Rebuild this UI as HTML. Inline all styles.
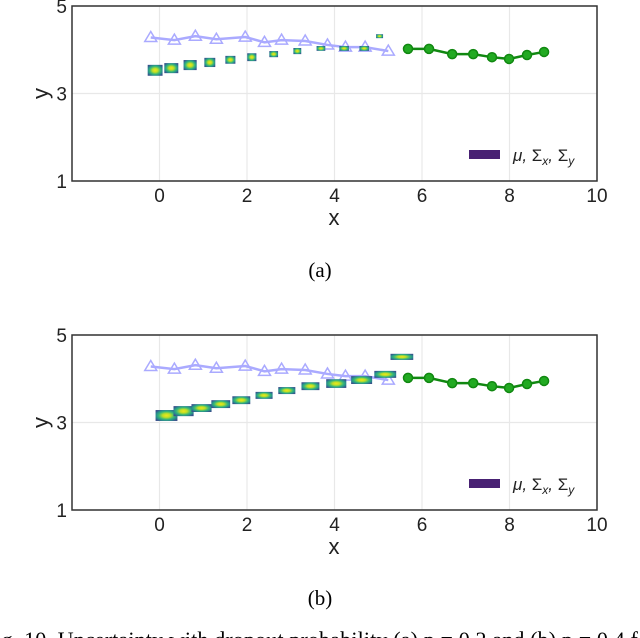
<!DOCTYPE html>
<html><head><meta charset="utf-8"><style>
html,body{margin:0;padding:0;background:#fff;width:640px;height:638px;overflow:hidden}
svg{display:block}
</style></head><body>
<svg id="fig" width="640" height="638" viewBox="0 0 640 638" xmlns="http://www.w3.org/2000/svg" font-family="Liberation Sans, sans-serif">
<defs>
<radialGradient id="blob" cx="0.5" cy="0.5" r="0.6">
<stop offset="0" stop-color="#f0e51c"/>
<stop offset="0.3" stop-color="#bddf26"/>
<stop offset="0.6" stop-color="#35b779"/>
<stop offset="0.85" stop-color="#26828e"/>
<stop offset="1" stop-color="#3b528b"/>
</radialGradient>
</defs>
<g id="panelA"></g>
<g id="panelB"></g>
<text x="320" y="277" text-anchor="middle" font-family="Liberation Serif, serif" font-size="21">(a)</text>
<text x="320" y="605" text-anchor="middle" font-family="Liberation Serif, serif" font-size="21">(b)</text>
<text x="-17" y="647" font-family="Liberation Serif, serif" font-size="22" textLength="666" lengthAdjust="spacing">Fig. 10.  Uncertainty with dropout probability (a) p = 0.2 and (b) p = 0.4 fo</text>
</svg>
<script>
const xTicks = [0, 2, 4, 6, 8, 10];
const yTicks = [1, 3, 5];
const histX = [-0.2, 0.34, 0.82, 1.3, 1.96, 2.4, 2.79, 3.33, 3.84, 4.25, 4.7, 5.23];
const histY = [4.28, 4.22, 4.31, 4.24, 4.29, 4.17, 4.22, 4.2, 4.11, 4.06, 4.06, 3.97];
const gtX = [5.68, 6.16, 6.69, 7.17, 7.6, 7.99, 8.4, 8.79];
const gtY = [4.02, 4.02, 3.9, 3.9, 3.83, 3.79, 3.88, 3.95];
const predAx = [-0.1, 0.27, 0.7, 1.15, 1.62, 2.11, 2.61, 3.15, 3.69, 4.22, 4.68, 5.03];
const predAy = [3.53, 3.58, 3.65, 3.71, 3.77, 3.83, 3.9, 3.97, 4.03, 4.03, 4.03, 4.31];
const sigAx = [0.34, 0.32, 0.3, 0.25, 0.23, 0.21, 0.2, 0.18, 0.2, 0.22, 0.22, 0.16];
const sigAy = [0.25, 0.23, 0.23, 0.21, 0.18, 0.18, 0.14, 0.14, 0.11, 0.11, 0.11, 0.09];
const predBx = [0.16, 0.55, 0.96, 1.4, 1.87, 2.39, 2.91, 3.45, 4.04, 4.62, 5.16, 5.54];
const predBy = [3.16, 3.26, 3.33, 3.42, 3.51, 3.62, 3.73, 3.83, 3.89, 3.97, 4.1, 4.5];
const sigBx = [0.5, 0.46, 0.46, 0.43, 0.41, 0.39, 0.39, 0.41, 0.46, 0.48, 0.5, 0.52];
const sigBy = [0.25, 0.23, 0.18, 0.18, 0.18, 0.16, 0.16, 0.18, 0.2, 0.18, 0.16, 0.14];

const NS = 'http://www.w3.org/2000/svg';
function mk(parent, tag, attrs) {
  const e = document.createElementNS(NS, tag);
  for (const k in attrs) e.setAttribute(k, attrs[k]);
  parent.appendChild(e);
  return e;
}
function drawPanel(g, top, px, py, sx, sy) {
  const L = 72, R = 597, B = top + 175;
  const X = v => L + (v + 2) / 12 * (R - L);
  const Y = v => B - (v - 1) / 4 * (B - top);
  xTicks.forEach(t => {
    const l = mk(g, 'line', {x1: X(t), x2: X(t), y1: top, y2: B, stroke: '#e8e8e8', 'stroke-width': 1.2});
    
    
    const tx = mk(g, 'text', {x: X(t), y: B + 21, 'text-anchor': 'middle', 'font-size': 19, fill: '#222'});
    tx.textContent = t;
    
    
  });
  yTicks.forEach(t => {
    const l = mk(g, 'line', {x1: L, x2: R, y1: Y(t), y2: Y(t), stroke: '#e8e8e8', 'stroke-width': 1.2});
    
    
    const tx = mk(g, 'text', {x: 67, y: Y(t) + 7, 'text-anchor': 'end', 'font-size': 19, fill: '#222'});
    tx.textContent = t;
    
    
  });
  const frame = mk(g, 'rect', {x: L, y: top, width: R - L, height: B - top, fill: 'none', stroke: '#333', 'stroke-width': 1.5});
  
  
  const xl = mk(g, 'text', {x: 334, y: B + 44, 'text-anchor': 'middle', 'font-size': 22, fill: '#222'});
  xl.textContent = 'x';
  
  
  const yl = mk(g, 'text', {x: 0, y: 0, 'text-anchor': 'middle', 'font-size': 22, fill: '#222', transform: `translate(48,${(top + B) / 2}) rotate(-90)`});
  yl.textContent = 'y';
  
  
  const hp = mk(g, 'polyline', {points: histX.map((v, i) => X(v) + ',' + Y(histY[i])).join(' '), fill: 'none', stroke: '#aaaaff', 'stroke-width': 2.5});
  
  
  histX.forEach((v, i) => {
    const cx = X(v), cy = Y(histY[i]);
    const t = mk(g, 'polygon', {points: `${cx},${cy - 6} ${cx - 6},${cy + 4} ${cx + 6},${cy + 4}`, fill: 'none', stroke: '#aaaaff', 'stroke-width': 1.5});
    
    
  });
  px.forEach((v, i) => {
    const w = sx[i] / 12 * (R - L), h = sy[i] / 4 * (B - top);
    const r = mk(g, 'rect', {x: X(v) - w / 2, y: Y(py[i]) - h / 2, width: w, height: h, fill: 'url(#blob)'});
    
    
  });
  const gp = mk(g, 'polyline', {points: gtX.map((v, i) => X(v) + ',' + Y(gtY[i])).join(' '), fill: 'none', stroke: '#118811', 'stroke-width': 2.5});
  
  
  gtX.forEach((v, i) => {
    const c = mk(g, 'circle', {cx: X(v), cy: Y(gtY[i]), r: 4.5, fill: '#22aa22', stroke: '#118811', 'stroke-width': 1.5});
    
    
  });
  const lr = mk(g, 'rect', {x: 469, y: top + 144, width: 31, height: 9, fill: '#482173'});
  
  
  const lt = mk(g, 'text', {x: 513, y: top + 155, 'font-size': 17, 'font-style': 'italic', fill: '#222'});
  lt.innerHTML = 'μ, <tspan font-style="normal">Σ</tspan><tspan font-size="12" dy="4">x</tspan><tspan dy="-4">, </tspan><tspan font-style="normal">Σ</tspan><tspan font-size="12" dy="4">y</tspan>';
  
  
}
drawPanel(document.getElementById('panelA'), 6, predAx, predAy, sigAx, sigAy);
drawPanel(document.getElementById('panelB'), 335, predBx, predBy, sigBx, sigBy);
</script>
</body></html>
